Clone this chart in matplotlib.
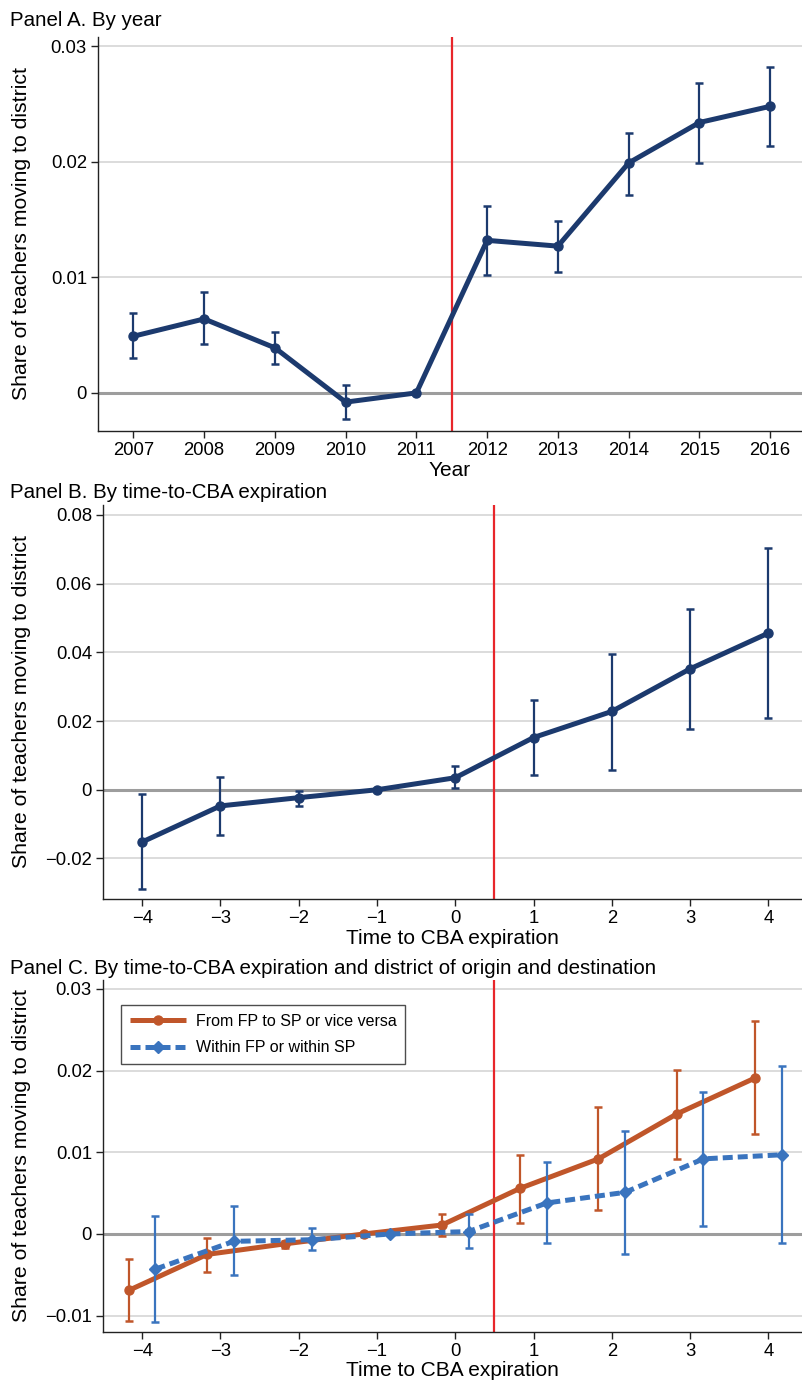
import numpy as np
import matplotlib.pyplot as plt

plt.rcParams['font.family'] = ['Liberation Sans', 'DejaVu Sans']

# Panel A: estimates by calendar year (2011 is the omitted year)
years = [2007, 2008, 2009, 2010, 2011, 2012, 2013, 2014, 2015, 2016]
year_est = [0.0049, 0.0064, 0.0039, -0.0008, 0.0, 0.0132, 0.0127, 0.0199, 0.0234, 0.0248]
year_lo = [0.0030, 0.0042, 0.0025, -0.0023, np.nan, 0.0102, 0.0105, 0.0171, 0.0199, 0.0214]
year_hi = [0.0069, 0.0087, 0.0053, 0.0007, np.nan, 0.0162, 0.0149, 0.0225, 0.0268, 0.0282]

# Panel B: estimates by time to CBA expiration (-1 omitted)
ttc = [-4, -3, -2, -1, 0, 1, 2, 3, 4]
ttc_est = [-0.0152, -0.0047, -0.0023, 0.0, 0.0035, 0.0152, 0.0228, 0.0352, 0.0456]
ttc_lo = [-0.0290, -0.0133, -0.0047, np.nan, 0.0004, 0.0043, 0.0058, 0.0178, 0.0210]
ttc_hi = [-0.0012, 0.0038, -0.0003, np.nan, 0.0068, 0.0260, 0.0396, 0.0525, 0.0705]

# Panel C: split by district of origin and destination
cross_est = [-0.0069, -0.0025, -0.0012, 0.0, 0.0011, 0.0056, 0.0092, 0.0147, 0.0191]
cross_lo = [-0.0106, -0.0047, -0.0017, np.nan, -0.0002, 0.0013, 0.0029, 0.0092, 0.0122]
cross_hi = [-0.0031, -0.0005, -0.0008, np.nan, 0.0024, 0.0097, 0.0155, 0.0201, 0.0261]
within_est = [-0.0043, -0.0009, -0.0007, 0.0, 0.0003, 0.0038, 0.0051, 0.0092, 0.0097]
within_lo = [-0.0108, -0.0050, -0.0020, np.nan, -0.0017, -0.0011, -0.0025, 0.0010, -0.0011]
within_hi = [0.0022, 0.0034, 0.0007, np.nan, 0.0024, 0.0088, 0.0126, 0.0174, 0.0206]

year_ticks = [0, 0.01, 0.02, 0.03]
year_tick_labels = ['0', '0.01', '0.02', '0.03']
ttc_ticks = [-0.02, 0, 0.02, 0.04, 0.06, 0.08]
ttc_tick_labels = ['\u22120.02', '0', '0.02', '0.04', '0.06', '0.08']
split_ticks = [-0.01, 0, 0.01, 0.02, 0.03]
split_tick_labels = ['\u22120.01', '0', '0.01', '0.02', '0.03']
ttc_labels = ['\u22124', '\u22123', '\u22122', '\u22121', '0', '1', '2', '3', '4']

NAVY = '#1c3a6e'
ORANGE = '#c0562a'
BLUE = '#3a74be'
RED = '#e8262b'
YLAB = 'Share of teachers moving to district'


def draw_series(ax, x, est, lo, hi, color, marker, ms, ls='-', dashes=None, z=4, label=None):
    x = np.asarray(x, float)
    est = np.asarray(est, float)
    lo = np.asarray(lo, float)
    hi = np.asarray(hi, float)
    ok = ~np.isnan(lo)
    ax.errorbar(x[ok], est[ok], yerr=[est[ok] - lo[ok], hi[ok] - est[ok]], fmt='none',
                ecolor=color, elinewidth=1.6, capsize=3.2, capthick=1.8, zorder=z - 1)
    line, = ax.plot(x, est, color=color, lw=3.6, ls=ls, marker=marker, ms=ms,
                    zorder=z, label=label, solid_capstyle='butt')
    if dashes is not None:
        line.set_dashes(dashes)
    return line


def style_axes(ax, yticks, ylabels, ylim, xticks, xlabels, xlim, xlabel, vline):
    ax.set_xlim(xlim)
    ax.set_ylim(ylim)
    ax.set_yticks(yticks, ylabels)
    ax.set_xticks(xticks, xlabels)
    ax.grid(axis='y', color='#d9d9d9', lw=1.3)
    ax.set_axisbelow(True)
    ax.axhline(0, color='#9d9d9d', lw=2.2, zorder=1.5)
    for s in ['top', 'right']:
        ax.spines[s].set_visible(False)
    for s in ['left', 'bottom']:
        ax.spines[s].set_color('#222222')
        ax.spines[s].set_linewidth(1.0)
    ax.tick_params(labelsize=13.3, length=5, width=1, color='#222222', pad=3)
    ax.set_xlabel(xlabel, fontsize=15, labelpad=1)
    ax.axvline(vline, color=RED, lw=1.6, zorder=2)


fig = plt.figure(figsize=(8.02, 13.8), dpi=100)
H = 1380.0
W = 802.0


def add_panel(left, top, bottom):
    return fig.add_axes([left / W, 1 - bottom / H, 1 - left / W, (bottom - top) / H])


# Panel A
axA = add_panel(98, 37, 431)
draw_series(axA, years, year_est, year_lo, year_hi, NAVY, 'o', 6.5)
style_axes(axA, year_ticks, year_tick_labels, (-0.0033, 0.0308),
           years, [str(y) for y in years], (2006.5, 2016.45), 'Year', 2011.5)
fig.text(10 / W, 1 - 21 / H, 'Panel A. By year', fontsize=14.8, va='center', ha='left')

# Panel B
axB = add_panel(103, 505, 899)
draw_series(axB, ttc, ttc_est, ttc_lo, ttc_hi, NAVY, 'o', 6.5)
style_axes(axB, ttc_ticks, ttc_tick_labels, (-0.0318, 0.0829),
           ttc, ttc_labels, (-4.5, 4.43), 'Time to CBA expiration', 0.5)
fig.text(10 / W, 1 - 493 / H, 'Panel B. By time-to-CBA expiration', fontsize=14.8,
         va='center', ha='left')

# Panel C: the two series are shifted sideways so the bars do not overlap
axC = add_panel(103, 980, 1332)
shift = 0.17
x_cross = np.array(ttc) - shift
x_within = np.array(ttc) + shift
h1 = draw_series(axC, x_cross, cross_est, cross_lo, cross_hi, ORANGE, 'o', 6.5, z=4,
                 label='From FP to SP or vice versa')
h2 = draw_series(axC, x_within, within_est, within_lo, within_hi, BLUE, 'D', 6.5,
                 ls='--', dashes=(2.0, 1.0), z=6, label='Within FP or within SP')
style_axes(axC, split_ticks, split_tick_labels, (-0.0120, 0.0311),
           ttc, ttc_labels, (-4.5, 4.43), 'Time to CBA expiration', 0.5)
leg = axC.legend(handles=[h1, h2], loc='upper left', bbox_to_anchor=(0.026, 0.929),
                 borderaxespad=0, fontsize=11.5, frameon=True, fancybox=False,
                 edgecolor='#222222', handlelength=3.5, handletextpad=0.63,
                 borderpad=0.55, labelspacing=0.72, numpoints=1)
leg.get_frame().set_linewidth(1.0)
fig.text(10 / W, 1 - 968 / H,
         'Panel C. By time-to-CBA expiration and district of origin and destination',
         fontsize=14.8, va='center', ha='left')

for ax, top, bottom in [(axA, 37, 431), (axB, 505, 899), (axC, 980, 1332)]:
    fig.text(22 / W, 1 - (top + bottom) / 2 / H, YLAB, fontsize=15.3,
             rotation=90, ha='center', va='center')

fig.savefig('out.png', dpi=100, facecolor='white')
